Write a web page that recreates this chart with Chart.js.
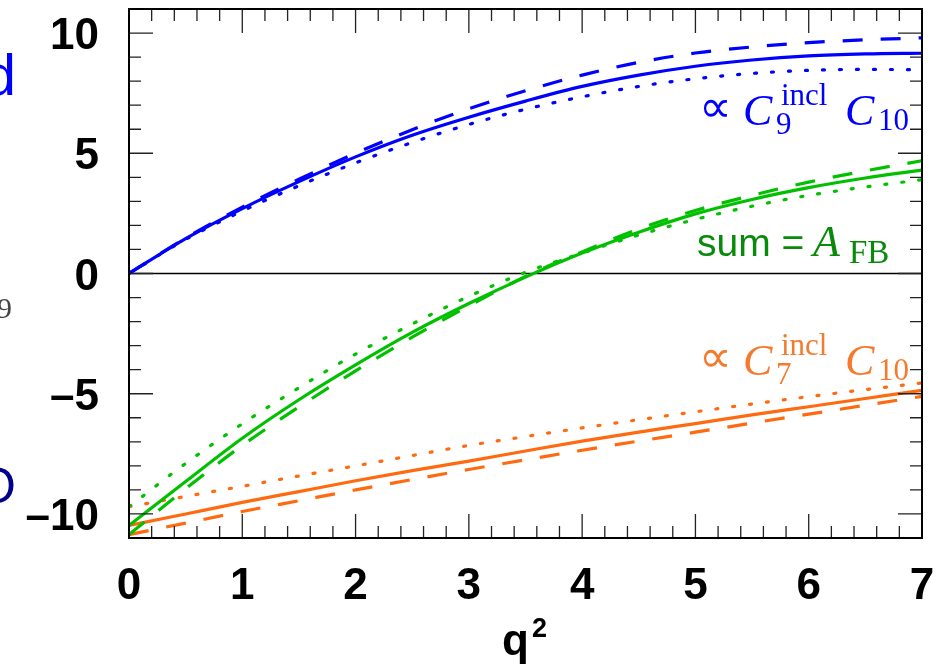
<!DOCTYPE html>
<html>
<head>
<meta charset="utf-8">
<script src="https://cdn.jsdelivr.net/npm/chart.js@4.4.1/dist/chart.umd.min.js"></script>
<style>
    html, body { margin: 0; padding: 0; background: #ffffff; }
    #wrap { width: 948px; height: 667px; }
</style>
</head>
<body>
<div id="wrap"><canvas id="afbChart" width="948" height="667"></canvas></div>
<script>
// q^2 sample points and curve values
const q2 = [0, 0.5, 1, 1.5, 2, 2.5, 3, 3.5, 4, 4.5, 5, 5.5, 6, 6.5, 7];

const c9Solid  = [0, 1.45, 2.7, 3.82, 4.85, 5.75, 6.5, 7.17, 7.78, 8.25, 8.62, 8.88, 9.05, 9.13, 9.16];
const c9Dashed = [0, 1.47, 2.76, 3.92, 5.0, 5.98, 6.85, 7.6, 8.25, 8.78, 9.17, 9.42, 9.6, 9.72, 9.8];
const c9Dotted = [0, 1.42, 2.6, 3.65, 4.6, 5.45, 6.2, 6.83, 7.35, 7.78, 8.1, 8.32, 8.45, 8.49, 8.47];

const sumSolid  = [-10.48, -8.65, -6.85, -5.25, -3.8, -2.45, -1.25, -0.15, 0.85, 1.72, 2.48, 3.08, 3.57, 3.97, 4.3];
const sumDashed = [-10.86, -8.95, -7.15, -5.55, -4.05, -2.65, -1.35, -0.12, 0.9, 1.85, 2.62, 3.25, 3.8, 4.27, 4.69];
const sumDotted = [-9.7, -7.9, -6.25, -4.75, -3.35, -2.1, -0.95, 0.05, 0.85, 1.6, 2.25, 2.8, 3.25, 3.6, 3.9];

const c7Solid  = [-10.48, -10.0, -9.52, -9.07, -8.62, -8.2, -7.8, -7.38, -6.97, -6.6, -6.24, -5.88, -5.54, -5.2, -4.86];
const c7Dashed = [-10.86, -10.38, -9.9, -9.45, -9.0, -8.57, -8.15, -7.75, -7.35, -6.97, -6.6, -6.22, -5.85, -5.48, -5.11];
const c7Dotted = [-9.7, -9.27, -8.85, -8.42, -8.0, -7.57, -7.15, -6.78, -6.42, -6.08, -5.75, -5.43, -5.12, -4.83, -4.55];

const xTicks = [0, 1, 2, 3, 4, 5, 6, 7];
const yTicks = [-10, -5, 0, 5, 10];

const BLUE = '#0000ff';
const GREEN = '#00c000';
const ORANGE = '#ff6a10';

const DASH = [20, 18];
const DOT = [2, 15];

const TICK_FONT = 'bold 44px "Liberation Sans", Arial, sans-serif';

function series(values, color, dash) {
    return {
        data: values.map((v, i) => ({ x: q2[i], y: v })),
        borderColor: color,
        borderWidth: 3.2,
        borderDash: dash,
        borderCapStyle: dash === DOT ? 'round' : 'butt',
        pointRadius: 0,
        cubicInterpolationMode: 'monotone',
        fill: false
    };
}

// Frame, inward ticks, tick labels and the zero line
const framePlugin = {
    id: 'framePlugin',
    beforeDatasetsDraw(chart) {
        const { ctx, chartArea: a, scales } = chart;
        const y0 = scales.y.getPixelForValue(0);
        ctx.save();
        ctx.strokeStyle = '#000';
        ctx.lineWidth = 1.4;
        ctx.beginPath();
        ctx.moveTo(a.left, y0);
        ctx.lineTo(a.right, y0);
        ctx.stroke();
        ctx.restore();
    },
    afterDatasetsDraw(chart) {
        const { ctx, chartArea: a, scales } = chart;
        ctx.save();
        ctx.strokeStyle = '#222';
        ctx.lineWidth = 1.3;
        ctx.beginPath();
        // x ticks every 0.2, long at integers
        for (let i = 0; i <= 35; i++) {
            const px = scales.x.getPixelForValue(i * 0.2);
            const len = i % 5 === 0 ? 24 : 12;
            ctx.moveTo(px, a.bottom);
            ctx.lineTo(px, a.bottom - len);
            ctx.moveTo(px, a.top);
            ctx.lineTo(px, a.top + len);
        }
        // y ticks every 1, long at multiples of 5
        for (let v = -11; v <= 11; v++) {
            const py = scales.y.getPixelForValue(v);
            const len = v % 5 === 0 ? 24 : 12;
            ctx.moveTo(a.left, py);
            ctx.lineTo(a.left + len, py);
            ctx.moveTo(a.right, py);
            ctx.lineTo(a.right - len, py);
        }
        ctx.stroke();
        ctx.strokeStyle = '#000';
        ctx.lineWidth = 2;
        ctx.strokeRect(a.left, a.top, a.right - a.left, a.bottom - a.top);

        // tick labels
        ctx.fillStyle = '#000';
        ctx.font = TICK_FONT;
        ctx.textBaseline = 'alphabetic';
        ctx.textAlign = 'center';
        xTicks.forEach(v => {
            ctx.fillText(String(v), scales.x.getPixelForValue(v), a.bottom + 61);
        });
        ctx.textAlign = 'right';
        yTicks.forEach(v => {
            const label = String(v).replace('-', '\u2013');
            ctx.fillText(label, a.left - 30, scales.y.getPixelForValue(v) + 16);
        });
        ctx.restore();
    },
    afterDraw(chart) {
        const ctx = chart.ctx;
        ctx.save();
        ctx.textBaseline = 'alphabetic';

        // axis title q^2
        ctx.fillStyle = '#000';
        ctx.font = 'bold 44px "Liberation Sans", Arial, sans-serif';
        ctx.fillText('q', 502, 655);
        ctx.font = 'bold 27px "Liberation Sans", Arial, sans-serif';
        ctx.fillText('2', 532, 637);

        // curve labels
        drawProp(ctx, 699, 122, BLUE, '9');
        drawProp(ctx, 699, 372, '#f57a2e', '7');

        ctx.fillStyle = '#0a8a0a';
        ctx.font = '39px "Liberation Sans", Arial, sans-serif';
        ctx.fillText('sum = ', 697, 256);
        ctx.font = 'italic 44px "Liberation Serif", "DejaVu Serif", serif';
        ctx.fillText('A', 813, 256);
        ctx.font = '33px "Liberation Serif", "DejaVu Serif", serif';
        ctx.fillText('FB', 849, 263);

        // pieces of the neighbouring panel cut off at the left
        ctx.textAlign = 'right';
        ctx.fillStyle = BLUE;
        ctx.font = '58px "Liberation Sans", Arial, sans-serif';
        ctx.fillText('d', 16, 95);
        ctx.fillStyle = '#444';
        ctx.font = '30px "Liberation Serif", serif';
        ctx.fillText('9', 12, 318);
        ctx.fillStyle = '#00008b';
        ctx.font = '50px "Liberation Sans", Arial, sans-serif';
        ctx.fillText('O', 16, 503);
        ctx.restore();
    }
};

// "∝ C_n^incl C_10"
function drawProp(ctx, x, y, color, sub) {
    ctx.fillStyle = color;
    ctx.font = '46px "DejaVu Sans", serif';
    ctx.fillText('\u221D', x, y);
    ctx.font = 'italic 44px "Liberation Serif", "DejaVu Serif", serif';
    ctx.fillText('C', x + 44, y + 3);
    ctx.font = '31px "Liberation Serif", "DejaVu Serif", serif';
    ctx.fillText(sub, x + 77, y + 12);
    ctx.fillText('incl', x + 82, y - 17);
    ctx.font = 'italic 44px "Liberation Serif", "DejaVu Serif", serif';
    ctx.fillText('C', x + 146, y + 3);
    ctx.font = '31px "Liberation Serif", "DejaVu Serif", serif';
    ctx.fillText('10', x + 179, y + 8);
}

new Chart(document.getElementById('afbChart'), {
    type: 'line',
    data: {
        datasets: [
            series(c9Solid, BLUE, []),
            series(c9Dashed, BLUE, DASH),
            series(c9Dotted, BLUE, DOT),
            series(sumSolid, GREEN, []),
            series(sumDashed, GREEN, DASH),
            series(sumDotted, GREEN, DOT),
            series(c7Solid, ORANGE, []),
            series(c7Dashed, ORANGE, DASH),
            series(c7Dotted, ORANGE, DOT)
        ]
    },
    options: {
        responsive: false,
        animation: false,
        devicePixelRatio: 1,
        layout: { padding: { left: 0, top: 9, right: 26, bottom: 0 } },
        plugins: {
            legend: { display: false },
            tooltip: { enabled: false }
        },
        scales: {
            x: {
                type: 'linear',
                min: 0,
                max: 7,
                grid: { display: false, drawTicks: false },
                border: { display: false },
                ticks: { display: false },
                afterFit: s => { s.height = 129; }
            },
            y: {
                type: 'linear',
                min: -11,
                max: 11,
                grid: { display: false, drawTicks: false },
                border: { display: false },
                ticks: { display: false },
                afterFit: s => { s.width = 129; }
            }
        }
    },
    plugins: [framePlugin]
});
</script>
</body>
</html>
